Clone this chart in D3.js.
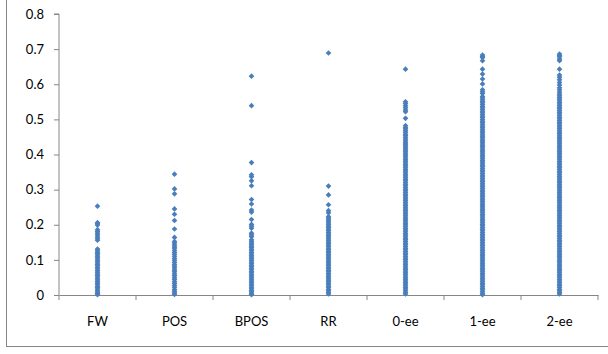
<!DOCTYPE html>
<html>
<head>
<meta charset="utf-8">
<script src="https://cdn.jsdelivr.net/npm/d3@7"></script>
<style>
  html, body { margin: 0; padding: 0; background: #fff; }
  svg { display: block; }
  text { font-family: Lato, "Open Sans", sans-serif; font-size: 13px; fill: #000; }
</style>
</head>
<body>
<div id="chart"></div>
<script>
// categories along the x axis
const categories = ['FW', 'POS', 'BPOS', 'RR', '0-ee', '1-ee', '2-ee'];
const yTicks = [0, 0.1, 0.2, 0.3, 0.4, 0.5, 0.6, 0.7, 0.8];

// values, one list per category
const fwValues = [0.253, 0.206, 0.203, 0.199, 0.186, 0.181, 0.176, 0.171, 0.165, 0.16, 0.156,
  0.131, 0.127, 0.122, 0.118, 0.114, 0.109, 0.105, 0.1, 0.096, 0.091, 0.087, 0.083, 0.078, 0.074,
  0.069, 0.065, 0.06, 0.056, 0.052, 0.047, 0.043, 0.038, 0.034, 0.03, 0.025, 0.021, 0.017, 0.012,
  0.008, 0.004, 0.001];
const posValues = [0.344, 0.302, 0.288, 0.245, 0.23, 0.212, 0.188, 0.164, 0.152, 0.148, 0.142,
  0.137, 0.133, 0.127, 0.121, 0.116, 0.11, 0.104, 0.099, 0.093, 0.087, 0.082, 0.077, 0.071, 0.066,
  0.06, 0.055, 0.049, 0.044, 0.038, 0.033, 0.027, 0.022, 0.016, 0.011, 0.006, 0.002];
const bposValues = [0.623, 0.539, 0.377, 0.342, 0.337, 0.325, 0.311, 0.272, 0.259, 0.242, 0.236,
  0.215, 0.201, 0.196, 0.19, 0.176, 0.171, 0.166, 0.157, 0.153, 0.148, 0.144, 0.139, 0.135, 0.13,
  0.126, 0.121, 0.117, 0.112, 0.108, 0.103, 0.099, 0.094, 0.09, 0.085, 0.081, 0.076, 0.072, 0.067,
  0.063, 0.058, 0.054, 0.049, 0.045, 0.04, 0.036, 0.031, 0.027, 0.022, 0.018, 0.013, 0.009, 0.005,
  0.001];
const rrValues = [0.689, 0.31, 0.285, 0.257, 0.24, 0.234, 0.223, 0.219, 0.214, 0.21, 0.205, 0.201,
  0.196, 0.192, 0.187, 0.183, 0.178, 0.174, 0.169, 0.165, 0.16, 0.156, 0.151, 0.147, 0.142, 0.138,
  0.133, 0.129, 0.124, 0.12, 0.115, 0.111, 0.106, 0.102, 0.097, 0.093, 0.088, 0.084, 0.079, 0.075,
  0.07, 0.066, 0.061, 0.057, 0.052, 0.048, 0.043, 0.039, 0.034, 0.03, 0.025, 0.021, 0.016, 0.012,
  0.007, 0.003];
const ee0Values = [0.643, 0.55, 0.545, 0.539, 0.533, 0.527, 0.522, 0.503, 0.482, 0.477, 0.473,
  0.468, 0.463, 0.458, 0.454, 0.449, 0.444, 0.439, 0.434, 0.43, 0.427, 0.422, 0.418, 0.413, 0.409,
  0.404, 0.399, 0.395, 0.39, 0.385, 0.381, 0.376, 0.371, 0.367, 0.362, 0.357, 0.353, 0.348, 0.343,
  0.339, 0.334, 0.329, 0.325, 0.32, 0.315, 0.311, 0.306, 0.301, 0.297, 0.292, 0.287, 0.283, 0.278,
  0.273, 0.269, 0.264, 0.259, 0.255, 0.25, 0.245, 0.241, 0.236, 0.231, 0.227, 0.222, 0.217, 0.213,
  0.208, 0.203, 0.199, 0.194, 0.189, 0.185, 0.18, 0.175, 0.171, 0.166, 0.161, 0.157, 0.152, 0.147,
  0.143, 0.138, 0.133, 0.129, 0.124, 0.119, 0.115, 0.11, 0.105, 0.101, 0.096, 0.091, 0.087, 0.082,
  0.077, 0.073, 0.068, 0.063, 0.059, 0.054, 0.049, 0.045, 0.04, 0.035, 0.031, 0.026, 0.021, 0.017,
  0.012, 0.007, 0.003];
const ee1Values = [0.683, 0.679, 0.676, 0.667, 0.643, 0.629, 0.615, 0.601, 0.584, 0.579, 0.574,
  0.565, 0.561, 0.556, 0.551, 0.547, 0.542, 0.537, 0.533, 0.528, 0.523, 0.519, 0.514, 0.509, 0.505,
  0.5, 0.495, 0.491, 0.486, 0.481, 0.477, 0.472, 0.467, 0.463, 0.458, 0.453, 0.449, 0.444, 0.439,
  0.435, 0.43, 0.425, 0.421, 0.416, 0.411, 0.407, 0.402, 0.397, 0.393, 0.388, 0.383, 0.379, 0.374,
  0.369, 0.365, 0.36, 0.355, 0.351, 0.346, 0.341, 0.337, 0.332, 0.327, 0.323, 0.318, 0.313, 0.309,
  0.304, 0.299, 0.295, 0.29, 0.285, 0.281, 0.276, 0.271, 0.267, 0.262, 0.257, 0.253, 0.248, 0.243,
  0.239, 0.234, 0.229, 0.225, 0.22, 0.215, 0.211, 0.206, 0.201, 0.197, 0.192, 0.187, 0.183, 0.178,
  0.173, 0.169, 0.164, 0.159, 0.155, 0.15, 0.145, 0.141, 0.136, 0.131, 0.127, 0.122, 0.117, 0.113,
  0.108, 0.103, 0.099, 0.094, 0.089, 0.085, 0.08, 0.075, 0.071, 0.066, 0.061, 0.057, 0.052, 0.047,
  0.043, 0.038, 0.033, 0.029, 0.024, 0.019, 0.015, 0.01, 0.005, 0.001];
const ee2Values = [0.686, 0.682, 0.678, 0.672, 0.667, 0.643, 0.626, 0.62, 0.613, 0.605, 0.598,
  0.59, 0.584, 0.578, 0.572, 0.567, 0.562, 0.558, 0.553, 0.548, 0.544, 0.539, 0.534, 0.53, 0.525,
  0.52, 0.516, 0.511, 0.506, 0.502, 0.497, 0.492, 0.488, 0.483, 0.478, 0.474, 0.469, 0.464, 0.46,
  0.455, 0.45, 0.446, 0.441, 0.436, 0.432, 0.427, 0.422, 0.418, 0.413, 0.408, 0.404, 0.399, 0.394,
  0.39, 0.385, 0.38, 0.376, 0.371, 0.366, 0.362, 0.357, 0.352, 0.348, 0.343, 0.338, 0.334, 0.329,
  0.324, 0.32, 0.315, 0.31, 0.306, 0.301, 0.296, 0.292, 0.287, 0.282, 0.278, 0.273, 0.268, 0.264,
  0.259, 0.254, 0.25, 0.245, 0.24, 0.236, 0.231, 0.226, 0.222, 0.217, 0.212, 0.208, 0.203, 0.198,
  0.194, 0.189, 0.184, 0.18, 0.175, 0.17, 0.166, 0.161, 0.156, 0.152, 0.147, 0.142, 0.138, 0.133,
  0.128, 0.124, 0.119, 0.114, 0.11, 0.105, 0.1, 0.096, 0.091, 0.086, 0.082, 0.077, 0.072, 0.068,
  0.063, 0.058, 0.054, 0.049, 0.044, 0.04, 0.035, 0.03, 0.026, 0.021, 0.016, 0.012, 0.007, 0.003];

const seriesValues = [fwValues, posValues, bposValues, rrValues, ee0Values, ee1Values, ee2Values];

const width = 608, height = 354;
const margin = { top: 14, right: 10, bottom: 59, left: 59 };
const axisColor = '#868686';
const markerColor = '#4a7ebb';

const svg = d3.select('#chart').append('svg')
  .attr('width', width)
  .attr('height', height);

// chart border (only left and bottom edges fall inside the picture)
svg.append('rect')
  .attr('x', 6.5).attr('y', -10)
  .attr('width', width + 20).attr('height', 356.5)
  .attr('fill', 'none')
  .attr('stroke', axisColor);

const x = d3.scaleBand()
  .domain(categories)
  .range([margin.left, width - margin.right]);
const y = d3.scaleLinear()
  .domain([0, 0.8])
  .range([height - margin.bottom, margin.top]);

// y axis
const yAxis = d3.axisLeft(y)
  .tickValues(yTicks)
  .tickSize(5)
  .tickPadding(10)
  .tickFormat(d3.format('~g'));
const yg = svg.append('g')
  .attr('transform', `translate(${margin.left},0)`)
  .call(yAxis);
yg.select('.domain').attr('stroke', axisColor).attr('d', `M-5,${y(0.8)}H0V${y(0)}`);
yg.selectAll('.tick line').attr('stroke', axisColor);

// x axis labels at band centres, ticks at band edges
const xAxis = d3.axisBottom(x).tickSize(0).tickPadding(22);
const xg = svg.append('g')
  .attr('transform', `translate(0,${y(0)})`)
  .call(xAxis);
xg.select('.domain').attr('stroke', axisColor);
xg.selectAll('.tick text').attr('dy', '0.71em');
const edges = categories.map(c => x(c)).concat([x.range()[1]]);
xg.selectAll('.edge')
  .data(edges)
  .enter().append('line')
  .attr('class', 'edge')
  .attr('x1', d => d).attr('x2', d => d)
  .attr('y1', 0).attr('y2', 5)
  .attr('stroke', axisColor);

// points
const points = [];
categories.forEach((c, i) => {
  seriesValues[i].forEach(v => points.push({ cat: c, value: v }));
});
const marker = d3.symbol().type(d3.symbolSquare).size(16);
svg.append('g')
  .selectAll('path')
  .data(points)
  .enter().append('path')
  .attr('d', marker)
  .attr('transform', d => `translate(${x(d.cat) + x.bandwidth() / 2},${y(d.value)}) rotate(45)`)
  .attr('fill', markerColor);
</script>
</body>
</html>
